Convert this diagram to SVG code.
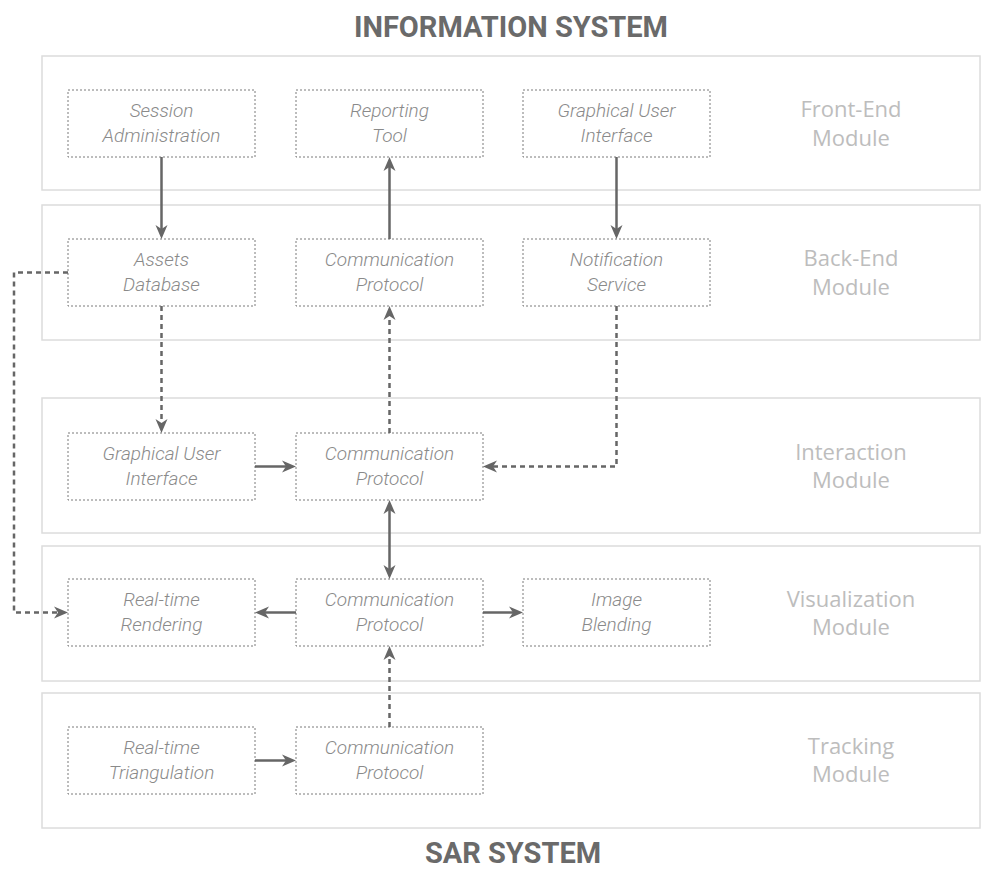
<svg xmlns="http://www.w3.org/2000/svg" width="981" height="874" viewBox="0 0 981 874">
<style>
.mod{fill:#fff;stroke:#dcdcdc;stroke-width:1.5}
.modlabel{font-family:"Open Sans","Liberation Sans",sans-serif;font-size:22px;fill:#bdbdbd;text-anchor:middle}
.node{fill:#fff;stroke:#7a7a7a;stroke-width:1;stroke-dasharray:2,2}
.nt{font-family:Roboto,"Liberation Sans",sans-serif;font-style:italic;font-weight:300;font-size:19px;fill:#8a8a8a;text-anchor:middle}
.title{font-family:Roboto,"Liberation Sans",sans-serif;font-weight:bold;font-size:29px;fill:#6a6a6a;text-anchor:middle}
.c{fill:none;stroke:#666;stroke-width:2.5;marker-end:url(#ah)}
.d{stroke-dasharray:5,4}
</style>
<defs>
<marker id="ah" markerUnits="userSpaceOnUse" markerWidth="14" markerHeight="14" viewBox="0 0 14 14" refX="4" refY="7" orient="auto-start-reverse">
<path d="M0,1 L14,7 L0,13 L4,7 z" fill="#666"/>
</marker>
</defs>
<text class="title" x="511" y="37">INFORMATION SYSTEM</text>
<text class="title" x="513" y="863">SAR SYSTEM</text>

<g id="front-end-module"><rect class="mod" x="42" y="56" width="938" height="134"/><text class="modlabel"><tspan x="851" y="117">Front-End</tspan><tspan x="851" y="146">Module</tspan></text></g>
<g id="back-end-module"><rect class="mod" x="42" y="205" width="938" height="135"/><text class="modlabel"><tspan x="851" y="266">Back-End</tspan><tspan x="851" y="295">Module</tspan></text></g>
<g id="interaction-module"><rect class="mod" x="42" y="398" width="938" height="135"/><text class="modlabel"><tspan x="851" y="460">Interaction</tspan><tspan x="851" y="488">Module</tspan></text></g>
<g id="visualization-module"><rect class="mod" x="42" y="546" width="938" height="135"/><text class="modlabel"><tspan x="851" y="607">Visualization</tspan><tspan x="851" y="635">Module</tspan></text></g>
<g id="tracking-module"><rect class="mod" x="42" y="693" width="938" height="135"/><text class="modlabel"><tspan x="851" y="754">Tracking</tspan><tspan x="851" y="782">Module</tspan></text></g>

<g id="session-administration"><rect class="node" x="68" y="90" width="187" height="67"/><text class="nt"><tspan x="161.5" y="117">Session</tspan><tspan x="161.5" y="142">Administration</tspan></text></g>
<g id="reporting-tool"><rect class="node" x="296" y="90" width="187" height="67"/><text class="nt"><tspan x="389.5" y="117">Reporting</tspan><tspan x="389.5" y="142">Tool</tspan></text></g>
<g id="gui-front"><rect class="node" x="523" y="90" width="187" height="67"/><text class="nt"><tspan x="616.5" y="117">Graphical User</tspan><tspan x="616.5" y="142">Interface</tspan></text></g>

<g id="assets-database"><rect class="node" x="68" y="239" width="187" height="67"/><text class="nt"><tspan x="161.5" y="266">Assets</tspan><tspan x="161.5" y="291">Database</tspan></text></g>
<g id="comm-back"><rect class="node" x="296" y="239" width="187" height="67"/><text class="nt"><tspan x="389.5" y="266">Communication</tspan><tspan x="389.5" y="291">Protocol</tspan></text></g>
<g id="notification-service"><rect class="node" x="523" y="239" width="187" height="67"/><text class="nt"><tspan x="616.5" y="266">Notification</tspan><tspan x="616.5" y="291">Service</tspan></text></g>

<g id="gui-interaction"><rect class="node" x="68" y="433" width="187" height="67"/><text class="nt"><tspan x="161.5" y="460">Graphical User</tspan><tspan x="161.5" y="485">Interface</tspan></text></g>
<g id="comm-interaction"><rect class="node" x="296" y="433" width="187" height="67"/><text class="nt"><tspan x="389.5" y="460">Communication</tspan><tspan x="389.5" y="485">Protocol</tspan></text></g>

<g id="realtime-rendering"><rect class="node" x="68" y="579" width="187" height="67"/><text class="nt"><tspan x="161.5" y="606">Real-time</tspan><tspan x="161.5" y="631">Rendering</tspan></text></g>
<g id="comm-visualization"><rect class="node" x="296" y="579" width="187" height="67"/><text class="nt"><tspan x="389.5" y="606">Communication</tspan><tspan x="389.5" y="631">Protocol</tspan></text></g>
<g id="image-blending"><rect class="node" x="523" y="579" width="187" height="67"/><text class="nt"><tspan x="616.5" y="606">Image</tspan><tspan x="616.5" y="631">Blending</tspan></text></g>

<g id="realtime-triangulation"><rect class="node" x="68" y="727" width="187" height="67"/><text class="nt"><tspan x="161.5" y="754">Real-time</tspan><tspan x="161.5" y="779">Triangulation</tspan></text></g>
<g id="comm-tracking"><rect class="node" x="296" y="727" width="187" height="67"/><text class="nt"><tspan x="389.5" y="754">Communication</tspan><tspan x="389.5" y="779">Protocol</tspan></text></g>

<g id="connectors">
<path class="c" d="M161.5,157 V229"/>
<path class="c" d="M389.5,239 V167"/>
<path class="c" d="M616.5,157 V229"/>
<path class="c d" d="M161.5,306 V423"/>
<path class="c d" d="M389.5,433 V316"/>
<path class="c d" d="M616.5,306 V466.5 H493"/>
<path class="c" d="M255,466.5 H286"/>
<path class="c" style="marker-start:url(#ah)" d="M389.5,510 V569"/>
<path class="c" d="M296,612.5 H265"/>
<path class="c" d="M483,612.5 H513"/>
<path class="c d" d="M68,272.5 H14 V612.5 H58"/>
<path class="c d" d="M389.5,727 V656"/>
<path class="c" d="M255,760.5 H286"/>
</g>
</svg>
